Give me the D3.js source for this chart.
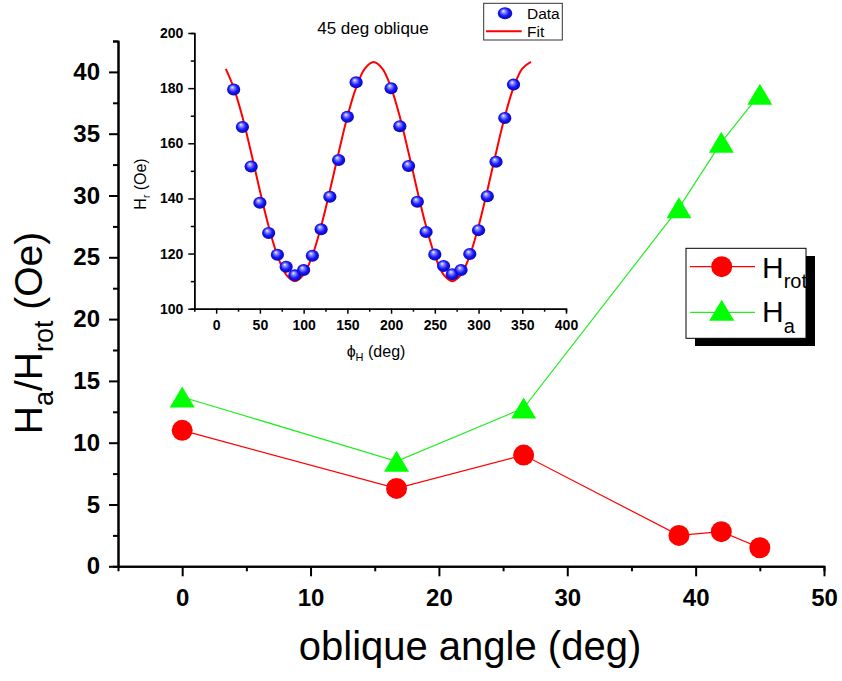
<!DOCTYPE html>
<html>
<head>
<meta charset="utf-8">
<script src="https://cdn.jsdelivr.net/npm/d3@7"></script>
<style>
  html, body { margin: 0; padding: 0; background: #fff; }
  svg { display: block; font-family: "Liberation Sans", Arial, sans-serif; }
</style>
</head>
<body>
<svg id="chart" width="842" height="681"></svg>
<script>
// Main panel: critical fields versus oblique deposition angle
const obliqueAngle = [0, 16.7, 26.6, 38.7, 42.0, 45.0];
const hRot = [11.0, 6.3, 9.0, 2.5, 2.8, 1.5];
const hA = [13.7, 8.5, 12.8, 29.0, 34.3, 38.2];
const mainXTicks = [0, 10, 20, 30, 40, 50];
const mainYTicks = [0, 5, 10, 15, 20, 25, 30, 35, 40];

// Inset: resonance field vs in-plane field angle (45 deg sample)
const phiData = [20, 30, 40, 50, 60, 70, 80, 90, 100, 110, 120, 130, 140, 150, 160,
                 200, 210, 220, 230, 240, 250, 260, 270, 280, 290, 300, 310, 320, 330, 340];
const hrData = [179.5, 165.9, 151.6, 138.4, 127.5, 119.6, 115.2, 112.1, 114.0, 119.2, 128.8, 140.6, 153.9, 169.6, 182.1,
                180.0, 166.2, 151.8, 138.8, 127.8, 119.7, 115.5, 112.5, 114.0, 119.8, 128.5, 140.8, 153.3, 169.2, 181.3];
const phiFit = [11, 20, 30, 40, 50, 60, 70, 80, 90, 100, 110, 120, 130, 140, 150, 160, 170, 180,
                190, 200, 210, 220, 230, 240, 250, 260, 270, 280, 290, 300, 310, 320, 330, 340, 350, 360];
const hrFit = [187.0, 180.2, 169.6, 156.6, 142.8, 129.9, 119.3, 112.4, 110.0, 112.4, 119.3, 129.9, 142.8, 156.6, 169.6, 180.2, 187.1, 189.5,
               187.1, 180.2, 169.6, 156.6, 142.8, 129.9, 119.3, 112.4, 110.0, 112.4, 119.3, 129.9, 142.8, 156.6, 169.6, 180.2, 187.1, 189.5];
const insetXTicks = [0, 50, 100, 150, 200, 250, 300, 350, 400];
const insetYTicks = [100, 120, 140, 160, 180, 200];

const svg = d3.select("#chart");
svg.append("rect").attr("width", 842).attr("height", 681).attr("fill", "#fff");

// ---------- main scales & axes ----------
const x = d3.scaleLinear().domain([-5, 50]).range([118, 824]);
const y = d3.scaleLinear().domain([0, 42.5]).range([566.3, 41]);

const yMinor = d3.range(2.5, 43, 5);
const xMinor = d3.range(5, 50, 10);

function styleAxis(g, fontSize) {
  g.select(".domain").attr("stroke", "#000").attr("stroke-width", 2);
  g.selectAll(".tick line").attr("stroke", "#000").attr("stroke-width", 2);
  g.selectAll("text").attr("font-size", fontSize).attr("font-weight", "bold")
    .attr("fill", "#000").attr("font-family", "'Liberation Sans', Arial, sans-serif");
}

const gyMinor = svg.append("g").attr("transform", `translate(${x(-5)},0)`)
  .call(d3.axisLeft(y).tickValues(yMinor).tickSize(5).tickFormat(""));
styleAxis(gyMinor, 24);
const gy = svg.append("g").attr("transform", `translate(${x(-5)},0)`)
  .call(d3.axisLeft(y).tickValues(mainYTicks).tickSize(9).tickSizeOuter(0).tickPadding(9).tickFormat(d3.format("d")));
styleAxis(gy, 24);

const gxMinor = svg.append("g").attr("transform", `translate(0,${y(0)})`)
  .call(d3.axisBottom(x).tickValues(xMinor).tickSize(5).tickFormat(""));
styleAxis(gxMinor, 24);
const gx = svg.append("g").attr("transform", `translate(0,${y(0)})`)
  .call(d3.axisBottom(x).tickValues(mainXTicks).tickSize(10).tickSizeOuter(0).tickPadding(13).tickFormat(d3.format("d")));
styleAxis(gx, 24);

// axis titles
svg.append("text")
  .attr("x", 470).attr("y", 660)
  .attr("text-anchor", "middle").attr("font-size", 40).attr("fill", "#000")
  .text("oblique angle (deg)");

const yt = svg.append("text")
  .attr("transform", "translate(42,333) rotate(-90)")
  .attr("text-anchor", "middle").attr("font-size", 39).attr("fill", "#000");
yt.append("tspan").text("H");
yt.append("tspan").attr("font-size", 27).attr("dy", 11).text("a");
yt.append("tspan").attr("dy", -11).text("/H");
yt.append("tspan").attr("font-size", 27).attr("dy", 11).text("rot");
yt.append("tspan").attr("dy", -11).text(" (Oe)");

// ---------- main series ----------
const line = d3.line().x(d => x(d[0])).y(d => y(d[1]));
const rotPts = obliqueAngle.map((a, i) => [a, hRot[i]]);
const aPts = obliqueAngle.map((a, i) => [a, hA[i]]);

svg.append("path").attr("d", line(aPts)).attr("fill", "none").attr("stroke", "#22ee22").attr("stroke-width", 1.2);
svg.append("path").attr("d", line(rotPts)).attr("fill", "none").attr("stroke", "#ff0000").attr("stroke-width", 1.2);

const tri = "M0,-10.5L12.5,10.5L-12.5,10.5Z";
svg.append("g").selectAll("path").data(aPts).join("path")
  .attr("d", tri).attr("transform", d => `translate(${x(d[0])},${y(d[1])})`)
  .attr("fill", "#00ff00");
svg.append("g").selectAll("circle").data(rotPts).join("circle")
  .attr("cx", d => x(d[0])).attr("cy", d => y(d[1])).attr("r", 10.5)
  .attr("fill", "#ff0000");

// ---------- main legend ----------
const lg = svg.append("g");
lg.append("rect").attr("x", 695).attr("y", 256).attr("width", 120).attr("height", 90).attr("fill", "#000");
lg.append("rect").attr("x", 686).attr("y", 248.3).attr("width", 120).attr("height", 90)
  .attr("fill", "#fff").attr("stroke", "#000").attr("stroke-width", 1);
lg.append("line").attr("x1", 690).attr("x2", 755).attr("y1", 266.7).attr("y2", 266.7)
  .attr("stroke", "#ff0000").attr("stroke-width", 1.2);
lg.append("circle").attr("cx", 721.7).attr("cy", 266.7).attr("r", 10.5).attr("fill", "#ff0000");
lg.append("line").attr("x1", 690).attr("x2", 755).attr("y1", 312.3).attr("y2", 312.3)
  .attr("stroke", "#22ee22").attr("stroke-width", 1.2);
lg.append("path").attr("d", tri).attr("transform", "translate(721.7,310.2)").attr("fill", "#00ff00");
const l1 = lg.append("text").attr("x", 762).attr("y", 277.7).attr("font-size", 30).attr("fill", "#000");
l1.append("tspan").text("H");
l1.append("tspan").attr("font-size", 20).attr("dy", 10).text("rot");
const l2 = lg.append("text").attr("x", 762).attr("y", 322.3).attr("font-size", 30).attr("fill", "#000");
l2.append("tspan").text("H");
l2.append("tspan").attr("font-size", 20).attr("dy", 11).text("a");

// ---------- inset ----------
const ix = d3.scaleLinear().domain([-25, 400]).range([194.3, 566]);
const iy = d3.scaleLinear().domain([100, 200]).range([308.7, 33]);

function styleInset(g) {
  g.select(".domain").attr("stroke", "#000").attr("stroke-width", 1.5);
  g.selectAll(".tick line").attr("stroke", "#000").attr("stroke-width", 1.5);
  g.selectAll("text").attr("font-size", 14).attr("font-weight", "bold").attr("fill", "#000")
    .attr("font-family", "'Liberation Sans', Arial, sans-serif");
}
const iyMinor = svg.append("g").attr("transform", `translate(${ix(-25)},0)`)
  .call(d3.axisLeft(iy).tickValues(d3.range(110, 200, 20)).tickSize(3.5).tickFormat(""));
styleInset(iyMinor);
const iyAx = svg.append("g").attr("transform", `translate(${ix(-25)},0)`)
  .call(d3.axisLeft(iy).tickValues(insetYTicks).tickSize(6).tickSizeOuter(0).tickPadding(5).tickFormat(d3.format("d")));
styleInset(iyAx);
const ixMinor = svg.append("g").attr("transform", `translate(0,${iy(100)})`)
  .call(d3.axisBottom(ix).tickValues(d3.range(25, 400, 50)).tickSize(3).tickFormat(""));
styleInset(ixMinor);
const ixAx = svg.append("g").attr("transform", `translate(0,${iy(100)})`)
  .call(d3.axisBottom(ix).tickValues(insetXTicks).tickSize(5).tickSizeOuter(0).tickPadding(6).tickFormat(d3.format("d")));
styleInset(ixAx);

// inset titles
svg.append("text").attr("x", 373).attr("y", 34.3).attr("text-anchor", "middle")
  .attr("font-size", 17).attr("fill", "#000").text("45 deg oblique");

const ixt = svg.append("text").attr("x", 376).attr("y", 357).attr("text-anchor", "middle")
  .attr("font-size", 16).attr("fill", "#000");
ixt.append("tspan").text("\u03D5");
ixt.append("tspan").attr("font-size", 11).attr("dy", 4).text("H");
ixt.append("tspan").attr("dy", -4).text(" (deg)");

const iyt = svg.append("text").attr("transform", "translate(146,184) rotate(-90)")
  .attr("text-anchor", "middle").attr("font-size", 16).attr("fill", "#000");
iyt.append("tspan").text("H");
iyt.append("tspan").attr("font-size", 10).attr("dy", 4).text("r");
iyt.append("tspan").attr("dy", -4).text(" (Oe)");

// shaded sphere markers
const defs = svg.append("defs");
const grad = defs.append("radialGradient").attr("id", "sphere")
  .attr("cx", "0.5").attr("cy", "0.5").attr("r", "0.6").attr("fx", "0.38").attr("fy", "0.3");
grad.append("stop").attr("offset", "0").attr("stop-color", "#ffffff");
grad.append("stop").attr("offset", "0.18").attr("stop-color", "#9c9cff");
grad.append("stop").attr("offset", "0.55").attr("stop-color", "#1818ff");
grad.append("stop").attr("offset", "1").attr("stop-color", "#00008a");

// fit curve
const fitLine = d3.line().curve(d3.curveCatmullRom).x(d => ix(d[0])).y(d => iy(d[1]));
svg.append("path").attr("d", fitLine(phiFit.map((p, i) => [p, hrFit[i]])))
  .attr("fill", "none").attr("stroke", "#ff0000").attr("stroke-width", 2);

svg.append("g").selectAll("ellipse").data(phiData.map((p, i) => [p, hrData[i]])).join("ellipse")
  .attr("cx", d => ix(d[0])).attr("cy", d => iy(d[1])).attr("rx", 6.6).attr("ry", 6)
  .attr("fill", "url(#sphere)");

// inset legend
const il = svg.append("g");
il.append("rect").attr("x", 483.7).attr("y", 3.3).attr("width", 78.6).attr("height", 36.7)
  .attr("fill", "#fff").attr("stroke", "#333").attr("stroke-width", 1);
il.append("ellipse").attr("cx", 505).attr("cy", 13.3).attr("rx", 7.2).attr("ry", 6)
  .attr("fill", "url(#sphere)");
il.append("line").attr("x1", 486).attr("x2", 521.7).attr("y1", 31.3).attr("y2", 31.3)
  .attr("stroke", "#ff0000").attr("stroke-width", 2);
il.append("text").attr("x", 527).attr("y", 18.5).attr("font-size", 15.5).attr("fill", "#000").text("Data");
il.append("text").attr("x", 527).attr("y", 36.5).attr("font-size", 15.5).attr("fill", "#000").text("Fit");
</script>
</body>
</html>
